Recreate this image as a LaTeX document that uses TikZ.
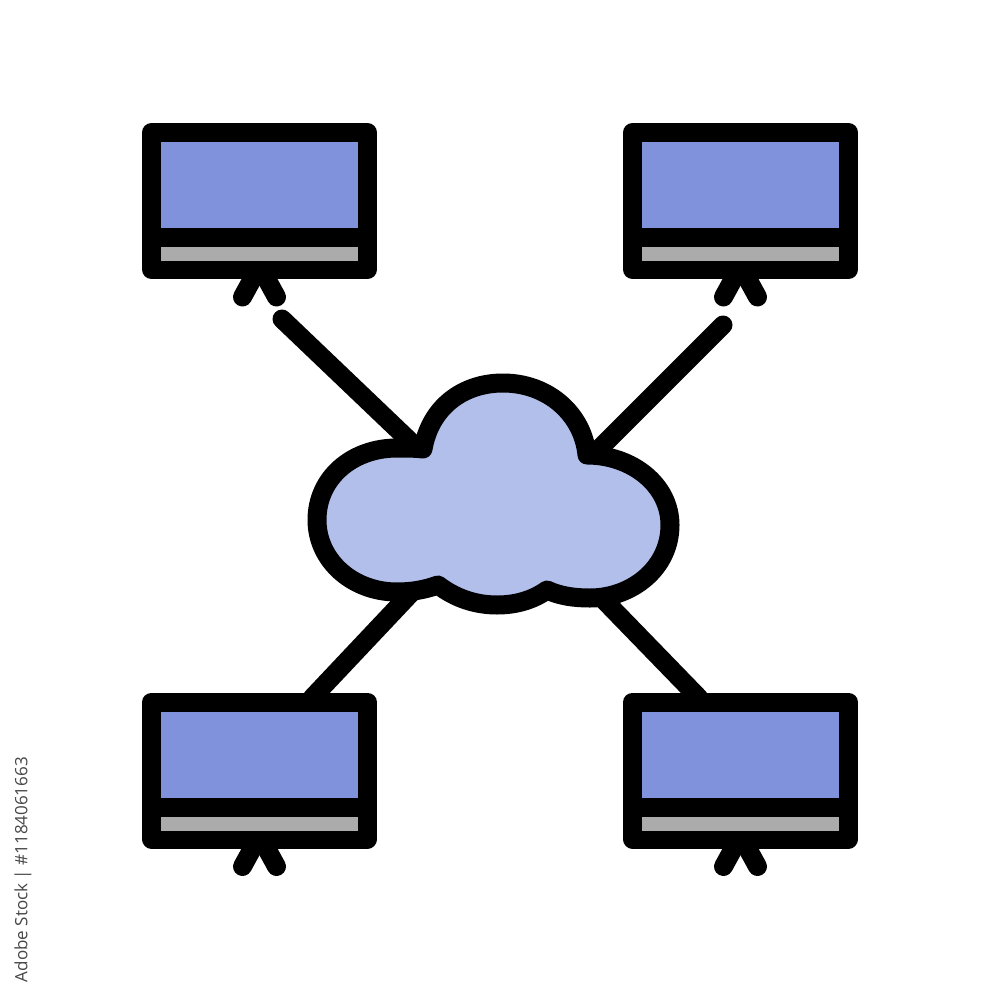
\documentclass[tikz,border=0pt]{standalone}
\usepackage{fontspec}
\setmainfont{Open Sans}
\definecolor{screenblue}{HTML}{7F92DB}
\definecolor{baygray}{HTML}{ABABAB}
\definecolor{cloudblue}{HTML}{B1BFEA}
\tikzset{
  x=1pt,y=-1pt,
  link/.style={draw=black,line width=19pt,line cap=round},
  monitorbody/.style={draw=black,fill=black,line width=19pt,line join=round,minimum width=216pt,minimum height=137pt,inner sep=0pt,outer sep=0pt,rectangle},
  screenpane/.style={fill=screenblue,minimum width=197pt,minimum height=86pt,inner sep=0pt,outer sep=0pt,rectangle},
  baypane/.style={fill=baygray,minimum width=197pt,minimum height=14pt,inner sep=0pt,outer sep=0pt,rectangle},
  cloudshape/.style={draw=black,fill=cloudblue,line width=19pt,line join=round},
}
\newcommand{\monitorat}[3]{%
  \coordinate (#1joint) at (#2,#3+65);
  \coordinate (#1legl) at (#2-17,#3+96);
  \coordinate (#1legr) at (#2+17,#3+96);
  \draw[link] (#1joint) -- (#1legl);
  \draw[link] (#1joint) -- (#1legr);
  \node[monitorbody] (#1) at (#2,#3) {};
  \node[screenpane] (#1screen) at (#2-0.5,#3-16) {};
  \node[baypane] (#1bay) at (#2-0.5,#3+53) {};
}
\begin{document}
\begin{tikzpicture}
\useasboundingbox (0,0) rectangle (1000,1000);
\fill[white] (0,0) rectangle (1000,1000);
\coordinate (cloudTL) at (415,446);
\coordinate (cloudTR) at (592,456);
\coordinate (cloudBL) at (412,592);
\coordinate (cloudBR) at (600,596);
\coordinate (freeTL) at (282,319);
\coordinate (freeTR) at (723,325);
\coordinate (mBLtop) at (312,698);
\coordinate (mBRtop) at (699,698);
\draw[link] (freeTL) -- (cloudTL);
\draw[link] (freeTR) -- (cloudTR);
\draw[link] (mBLtop) -- (cloudBL);
\draw[link] (mBRtop) -- (cloudBR);
\monitorat{mTL}{259.5}{201}
\monitorat{mTR}{740.5}{201}
\monitorat{mBL}{259.5}{770.5}
\monitorat{mBR}{740.5}{770.5}
\draw[cloudshape] (423,449)
  .. controls (430,408) and (462,383) .. (503,383)
  .. controls (548,383) and (583,414) .. (587,455)
  .. controls (632,455) and (670,485) .. (670,525)
  .. controls (670,568) and (632,598) .. (590,598)
  .. controls (574,598) and (560,596) .. (547,590)
  .. controls (533,600) and (516,605) .. (497,605)
  .. controls (475,605) and (455,598) .. (438,585)
  .. controls (424,590) and (411,592) .. (397,592)
  .. controls (352,592) and (317,560) .. (317,520)
  .. controls (317,478) and (352,448) .. (397,448)
  .. controls (406,448) and (415,448) .. (423,449) -- cycle;
\node[rotate=90,text=black!72,font=\fontsize{17}{20}\selectfont,inner sep=0pt,anchor=east] (credit) at (23,757) {Adobe Stock | \#1184061663};
\end{tikzpicture}
\end{document}
